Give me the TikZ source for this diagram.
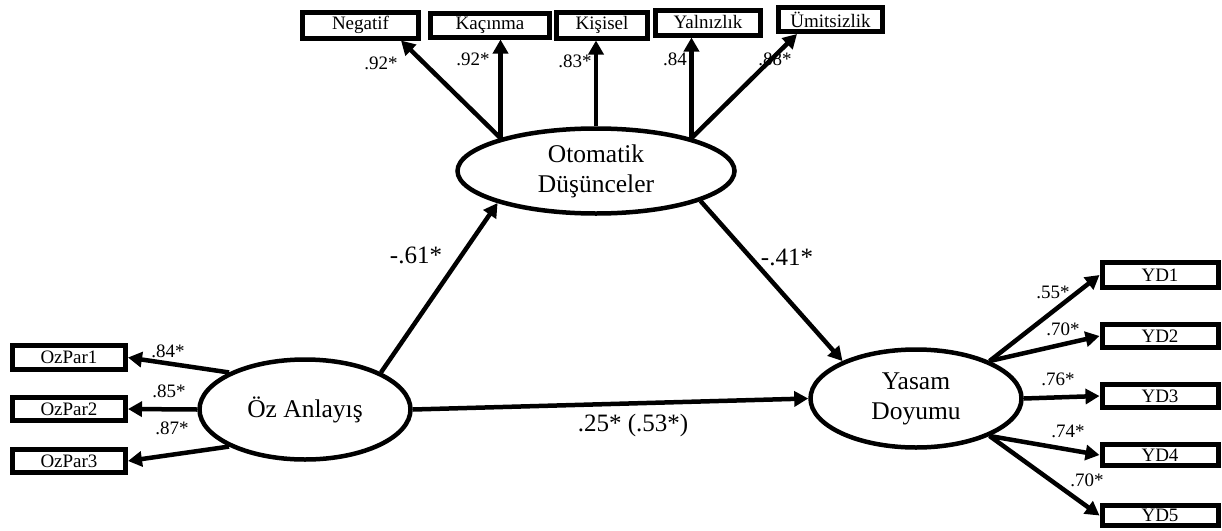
\documentclass[tikz,border=0pt]{standalone}
\usepackage{fontspec}
\setmainfont{Liberation Serif}
\usetikzlibrary{arrows.meta,shapes.geometric}
\begin{document}
\begin{tikzpicture}[x=1pt,y=-1pt,
 obs/.style={draw,line width=5pt,inner sep=0pt,font=\fontsize{19}{21}\selectfont},
 lat/.style={draw,ellipse,line width=4.5pt,inner sep=0pt,align=center,font=\fontsize{25.5}{30}\selectfont},
 arr/.style={line width=4.5pt,-{Triangle[length=14pt,width=15pt]}},
 coef/.style={font=\fontsize{19}{21}\selectfont,inner sep=0pt},
 pcoef/.style={font=\fontsize{25}{28}\selectfont,inner sep=0pt}]
\useasboundingbox[fill=white] (0,0) rectangle (1222,530);

% latent variables
\node[lat,minimum width=277pt,minimum height=85pt] (ot) at (596,171) {Otomatik\\Düşünceler};
\node[lat,minimum width=211pt,minimum height=100pt] (oz) at (305,409.5) {Öz Anlayış};
\node[lat,minimum width=211pt,minimum height=98pt] (ya) at (916,398.5) {Yasam\\Doyumu};

% top indicators
\node[obs,minimum width=116pt,minimum height=26pt] (neg) at (360.5,25) {Negatif};
\node[obs,minimum width=119pt,minimum height=24pt] (kac) at (490,25) {Kaçınma};
\node[obs,minimum width=91pt,minimum height=26pt] (kis) at (602,25) {Kişisel};
\node[obs,minimum width=105pt,minimum height=25pt] (yal) at (708,22.5) {Yalnızlık};
\node[obs,minimum width=104pt,minimum height=24pt] (umi) at (830.5,19.5) {Ümitsizlik};

% left indicators
\node[obs,minimum width=113pt,minimum height=24pt] (p1) at (69,357.5) {OzPar1};
\node[obs,minimum width=113pt,minimum height=23pt] (p2) at (69,409) {OzPar2};
\node[obs,minimum width=113pt,minimum height=23pt] (p3) at (69,461) {OzPar3};

% right indicators
\node[obs,minimum width=116pt,minimum height=25pt] (y1) at (1160,275) {YD1};
\node[obs,minimum width=116pt,minimum height=23pt] (y2) at (1160,336) {YD2};
\node[obs,minimum width=116pt,minimum height=23pt] (y3) at (1160,396) {YD3};
\node[obs,minimum width=116pt,minimum height=21pt] (y4) at (1160,455) {YD4};
\node[obs,minimum width=116pt,minimum height=20pt] (y5) at (1160,515.5) {YD5};

% top arrows
\draw[arr] (ot.161) -- ([xshift=-20pt]neg.south east);
\draw[arr] (ot.161) -- (ot.161 |- kac.south);
\draw[arr] (ot.north) -- (ot.north |- kis.south);
\draw[arr] (ot.19) -- (ot.19 |- yal.south);
\draw[arr] (ot.19) -- ([xshift=21pt]umi.south west);

% left arrows
\draw[arr] (oz.154) -- (p1.east);
\draw[arr] (oz.west) -- (p2.east);
\draw[arr] (oz.206) -- (p3.east);

% right arrows
\draw[arr] (ya.27) -- (y1.west);
\draw[arr] (ya.27) -- (y2.west);
\draw[arr] (ya.east) -- (y3.west);
\draw[arr] (ya.333) -- (y4.west);
\draw[arr] (ya.333) -- (y5.west);

% structural paths
\draw[arr] (oz.26) -- (ot.198);
\draw[arr] (ot.344) -- (ya.153);
\draw[arr] (oz.east) -- (ya.west);

% loading labels
\node[coef] (l1) at (381,63) {.92*};
\node[coef] (l2) at (473,59) {.92*};
\node[coef] (l3) at (575,61) {.83*};
\node[coef] (l4) at (675,59) {.84};
\node[coef] (l5) at (775,59) {.88*};
\node[coef] (l6) at (168,351) {.84*};
\node[coef] (l7) at (169,391) {.85*};
\node[coef] (l8) at (172,428) {.87*};
\node[coef] (l9) at (1053,292) {.55*};
\node[coef] (l10) at (1063,329) {.70*};
\node[coef] (l11) at (1058,379) {.76*};
\node[coef] (l12) at (1068,431) {.74*};
\node[coef] (l13) at (1087,480) {.70*};

% path labels
\node[pcoef] (c1) at (416,255) {-.61*};
\node[pcoef] (c2) at (787,257) {-.41*};
\node[pcoef] (c3) at (633,425) {.25* (.53*)};
\end{tikzpicture}
\end{document}
